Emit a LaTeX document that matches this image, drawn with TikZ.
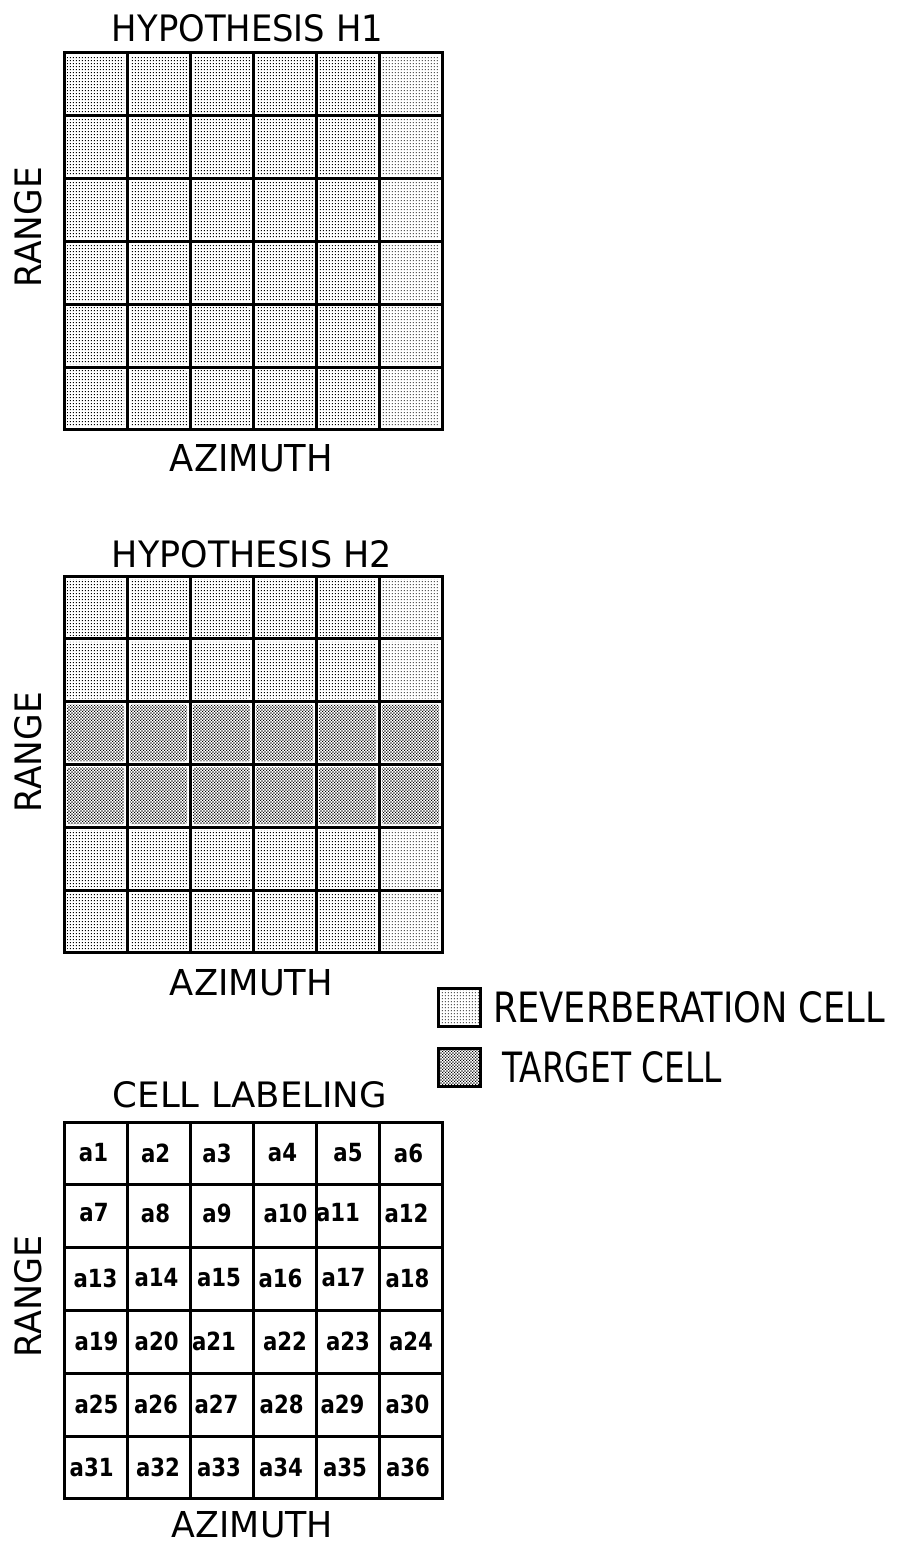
\documentclass[tikz,border=0pt]{standalone}
\usepackage{fontspec}
\setmainfont{DejaVu Sans}
\usetikzlibrary{patterns}
\pgfdeclarepatternformonly{reverbdots}{\pgfpointorigin}{\pgfpoint{3.3pt}{3.3pt}}{\pgfpoint{3.3pt}{3.3pt}}{\pgfpathrectangle{\pgfpoint{1pt}{1pt}}{\pgfpoint{1.1pt}{1.1pt}}\pgfusepath{fill}}
\pgfdeclarepatternformonly{targetdots}{\pgfpointorigin}{\pgfpoint{2.8pt}{2.8pt}}{\pgfpoint{2.8pt}{2.8pt}}{\pgfpathrectangle{\pgfpointorigin}{\pgfpoint{1.3pt}{1.3pt}}\pgfpathrectangle{\pgfpoint{1.4pt}{1.4pt}}{\pgfpoint{1.3pt}{1.3pt}}\pgfusepath{fill}}
\newcommand\fitlabel[3]{\resizebox{#1}{#2}{#3}}
\newcommand\celllab[1]{\scalebox{0.85}[1]{#1}}
\tikzset{
  gridline/.style={line width=3pt, line cap=rect},
  reverbfill/.style={pattern=reverbdots, rounded corners=1.5pt},
  targetfill/.style={pattern=targetdots, rounded corners=1.5pt},
  txt/.style={inner sep=0pt, outer sep=0pt},
  celltxt/.style={inner sep=0pt, font=\fontsize{25}{25}\selectfont\bfseries},
  legbox/.style={draw, line width=3pt, minimum width=42pt, minimum height=38pt, inner sep=0pt}
}
\begin{document}
\begin{tikzpicture}[x=1pt,y=-1pt]
\useasboundingbox[fill=white] (0,0) rectangle (901,1544);

% ---------- Hypothesis H1 ----------
\foreach \c in {0,...,5}
  \foreach \r in {0,...,5}
    \fill[reverbfill] ({64+63*\c+3},{53+62.8*\r+3}) rectangle ({64+63*\c+60},{53+62.8*\r+59.8});
\foreach \c in {0,...,6}
  \draw[gridline] ({64+63*\c},53) -- ({64+63*\c},429.8);
\foreach \r in {0,...,6}
  \draw[gridline] (64,{53+62.8*\r}) -- (442,{53+62.8*\r});
\node[txt] (t1) at (247.5,28.5) {\fitlabel{271pt}{27pt}{HYPOTHESIS H1}};
\node[txt] (az1) at (251.5,458.5) {\fitlabel{163pt}{27pt}{AZIMUTH}};
\node[txt, rotate=90] (rg1) at (28.5,227) {\fitlabel{120pt}{27pt}{RANGE}};

% ---------- Hypothesis H2 ----------
\foreach \c in {0,...,5}
  \foreach \r in {0,1,4,5}
    \fill[reverbfill] ({64+63*\c+3},{576+62.8*\r+3}) rectangle ({64+63*\c+60},{576+62.8*\r+59.8});
\foreach \c in {0,...,5}
  \foreach \r in {2,3}
    \fill[targetfill] ({64+63*\c+3},{576+62.8*\r+3}) rectangle ({64+63*\c+60},{576+62.8*\r+59.8});
\foreach \c in {0,...,6}
  \draw[gridline] ({64+63*\c},576) -- ({64+63*\c},952.8);
\foreach \r in {0,...,6}
  \draw[gridline] (64,{576+62.8*\r}) -- (442,{576+62.8*\r});
\node[txt] (t2) at (252,554) {\fitlabel{280pt}{27pt}{HYPOTHESIS H2}};
\node[txt] (az2) at (251.5,982.5) {\fitlabel{163pt}{26pt}{AZIMUTH}};
\node[txt, rotate=90] (rg2) at (28.5,752) {\fitlabel{120pt}{27pt}{RANGE}};

% ---------- Legend ----------
\node[legbox, pattern=reverbdots] (legrev) at (459.5,1007.5) {};
\node[legbox, pattern=targetdots] (legtgt) at (459.5,1067.5) {};
\node[txt, anchor=west] (legrevtxt) at (493,1007.5) {\fitlabel{392pt}{31pt}{REVERBERATION CELL}};
\node[txt, anchor=west] (legtgttxt) at (502,1067.5) {\fitlabel{220pt}{31pt}{TARGET CELL}};

% ---------- Cell labeling ----------
\foreach \c in {0,...,6}
  \draw[gridline] ({64+63*\c},1122) -- ({64+63*\c},1498.8);
\foreach \r in {0,...,6}
  \draw[gridline] (64,{1122+62.8*\r}) -- (442,{1122+62.8*\r});
\node[txt] (t3) at (250,1095) {\fitlabel{274pt}{26pt}{CELL LABELING}};
\node[txt] (az3) at (252.5,1524.5) {\fitlabel{161pt}{26pt}{AZIMUTH}};
\node[txt, rotate=90] (rg3) at (28.5,1296) {\fitlabel{122pt}{27pt}{RANGE}};

\foreach \n/\x/\y in {
  1/93.5/1153, 2/155.7/1153, 3/217/1153, 4/282.5/1153, 5/348/1153, 6/408.5/1153,
  7/94/1213, 8/155.5/1213, 9/217/1213, 10/285.5/1213, 11/338/1213, 12/406.5/1213,
  13/95.5/1278, 14/156.5/1278, 15/219/1278, 16/280.5/1278, 17/343.5/1278, 18/407.5/1278,
  19/96.5/1341, 20/156.7/1341, 21/214/1341, 22/285/1341, 23/348/1341, 24/411/1341,
  25/96.5/1404, 26/156/1404, 27/216.5/1404, 28/281.7/1404, 29/342.5/1404, 30/407.5/1404,
  31/91.7/1467, 32/158/1467, 33/219/1467, 34/281/1467, 35/345/1467, 36/408/1467}
  \node[celltxt] (a\n) at (\x,\y) {\celllab{a\n}};
\end{tikzpicture}
\end{document}
